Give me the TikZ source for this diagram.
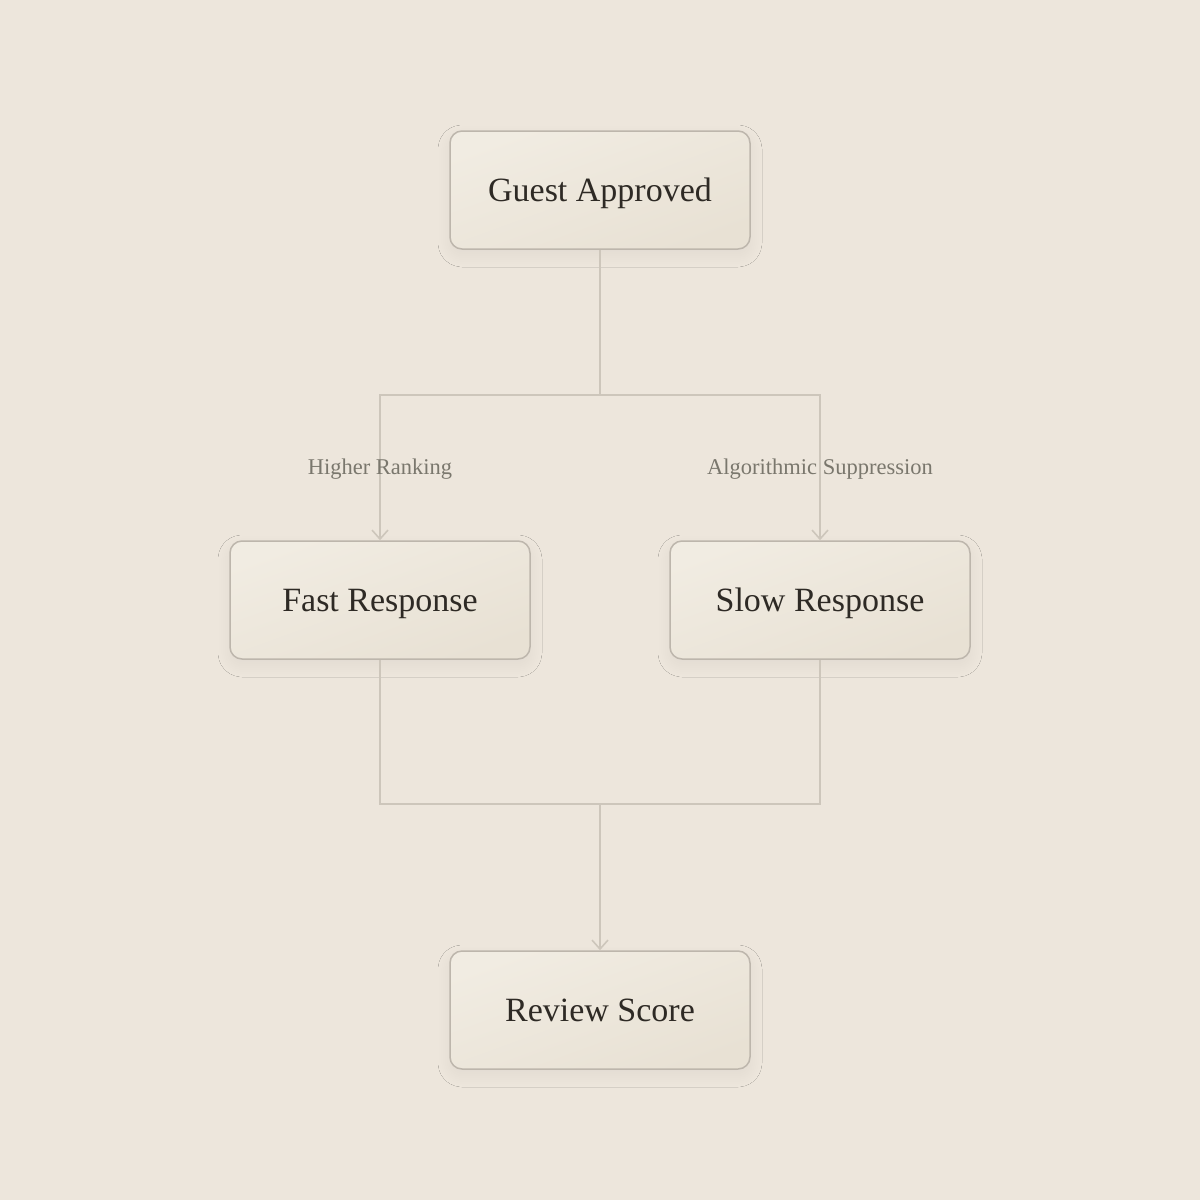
\documentclass[tikz,border=0pt]{standalone}
\usepackage{fontspec}
\setmainfont{Liberation Serif}
\usetikzlibrary{positioning,arrows.meta,shadows.blur}
\definecolor{bg}{HTML}{EDE6DC}
\definecolor{boxtop}{HTML}{F1ECE2}
\definecolor{boxbot}{HTML}{E8E1D4}
\definecolor{boxline}{HTML}{BDB6AC}
\definecolor{wirecol}{HTML}{CDC6BB}
\definecolor{ink}{HTML}{2E2A25}
\definecolor{lblcol}{HTML}{7A776D}
\begin{document}
\begin{tikzpicture}[x=1pt,y=-1pt,>={Straight Barb[length=9pt,width=16pt]},
  box/.style={draw=boxline,line width=1.5pt,rounded corners=12pt,
    minimum width=300pt,minimum height=118pt,top color=boxtop,bottom color=boxbot,
    shading angle=20,
    text=ink,font=\fontsize{34}{40}\selectfont,text height=22.5pt,text depth=0pt,
    blur shadow={shadow blur steps=20,shadow blur radius=12pt,shadow xshift=0pt,
      shadow yshift=-6pt,shadow opacity=5}},
  wire/.style={draw=wirecol,line width=1.6pt},
  lbl/.style={text=lblcol,font=\fontsize{22.5}{27}\selectfont}]
  % Bakgrunn
  \fill[bg] (0,0) rectangle (1200,1200);

  % Bokser
  \node[box] (guest) at (600,190) {Guest Approved};
  \node[box] (fast) at (380,600) {Fast Response};
  \node[box] (slow) at (820,600) {Slow Response};
  \node[box] (review) at (600,1010) {Review Score};

  % Piler
  \coordinate (split) at (600,395);
  \coordinate (join) at (600,804);
  \draw[wire] (guest.south) -- (split);
  \draw[wire,->] (split) -| (fast.north);
  \draw[wire,->] (split) -| (slow.north);
  \draw[wire] (fast.south) |- (join);
  \draw[wire] (slow.south) |- (join);
  \draw[wire,->] (join) -- (review.north);

  % Etiketter
  \node[lbl] (higher) at (380,469) {Higher Ranking};
  \node[lbl] (suppress) at (820,469) {Algorithmic Suppression};
\end{tikzpicture}
\end{document}
